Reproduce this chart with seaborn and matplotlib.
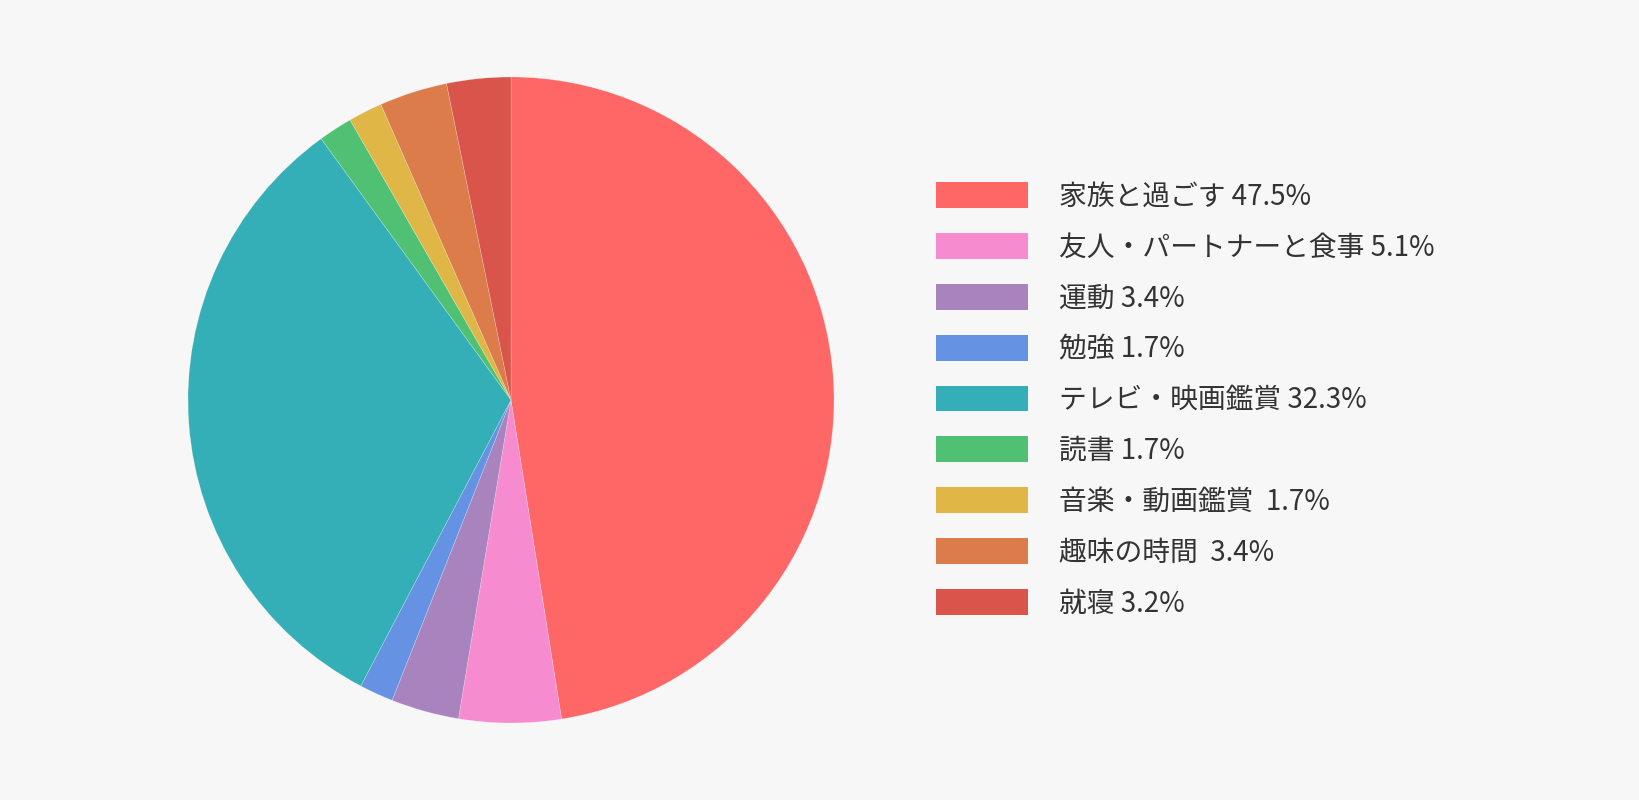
import matplotlib
matplotlib.use("Agg")
import matplotlib.pyplot as plt
import seaborn as sns
from matplotlib.patches import Patch

categories = ["家族と過ごす", "友人・パートナーと食事", "運動", "勉強", "テレビ・映画鑑賞",
              "読書", "音楽・動画鑑賞 ", "趣味の時間 ", "就寝"]
values = [47.5, 5.1, 3.4, 1.7, 32.3, 1.7, 1.7, 3.4, 3.2]
colors = ["#FF6666", "#F78BCF", "#A883BE", "#6592E3", "#34AEB7",
          "#50C173", "#E0B646", "#DC7C4B", "#D9544A"]

sns.set_theme(style="white")
plt.rcParams['font.family'] = ['Noto Sans CJK JP', 'DejaVu Sans']

bg = "#F7F7F7"
fig = plt.figure(figsize=(16.4, 8), dpi=100, facecolor=bg)
r_px = 323
cx, cy = 511, 400
ax = fig.add_axes([(cx - r_px) / 1640, (cy - r_px) / 800, 2 * r_px / 1640, 2 * r_px / 800])
ax.set_facecolor(bg)
ax.pie(values, colors=colors, startangle=90, counterclock=False, radius=1,
       wedgeprops=dict(edgecolor=(1, 1, 1, 0.35), linewidth=0.4, antialiased=True))
ax.set_xlim(-1, 1)
ax.set_ylim(-1, 1)
ax.set_aspect("equal")
ax.axis("off")

labels = [f"{c} {v}%" for c, v in zip(categories, values)]
handles = [Patch(facecolor=c, edgecolor="none") for c in colors]
fs = 20
leg = fig.legend(handles, labels, loc="center left", bbox_to_anchor=(0.571, 0.5),
                 frameon=False, fontsize=fs, handlelength=3.3, handleheight=1.05,
                 handletextpad=1.1, labelspacing=0.75, borderpad=0, borderaxespad=0)
for t in leg.get_texts():
    t.set_color("#333333")

fig.savefig("out.png", dpi=100, facecolor=bg)
